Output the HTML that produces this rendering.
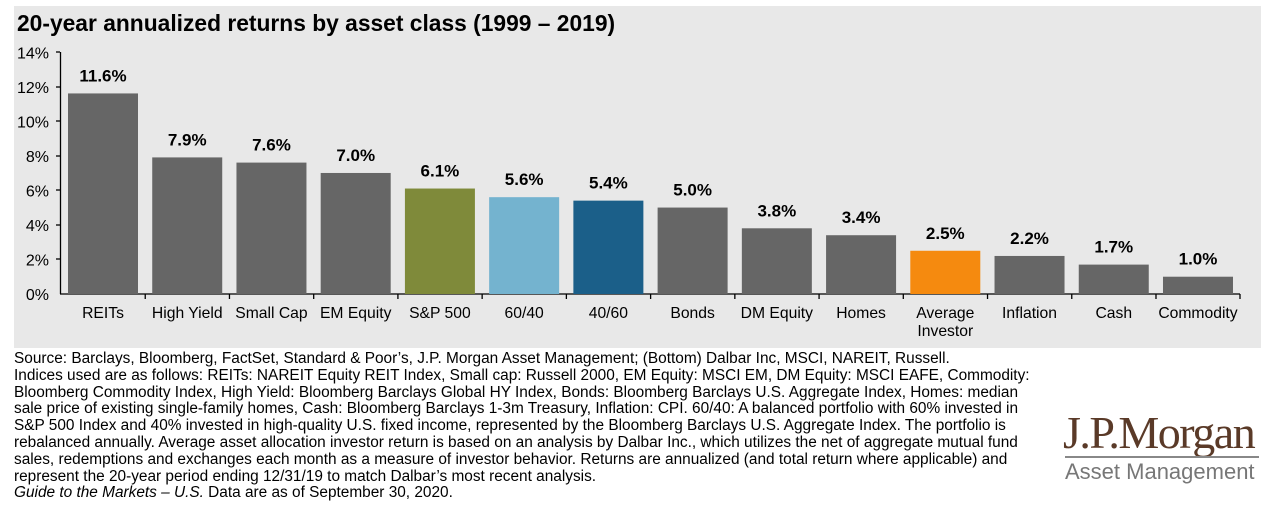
<!DOCTYPE html>
<html><head><meta charset="utf-8"><style>
body{margin:0;background:#fff;width:1280px;height:510px;overflow:hidden;font-family:"Liberation Sans",Arial,sans-serif}
.note{position:absolute;left:14px;top:351px;font-size:15.4px;line-height:16.8px;color:#000;width:1040px;white-space:nowrap}
</style></head><body>
<svg width="1280" height="510" style="position:absolute;left:0;top:0" font-family="Liberation Sans, Arial, sans-serif">
<rect x="14" y="6" width="1247" height="342" fill="#e8e8e8"/>
<text x="17" y="31" font-size="22.8" font-weight="bold" fill="#000">20-year annualized returns by asset class (1999 – 2019)</text>
<g font-size="16" fill="#000" text-anchor="end">
<text x="49" y="300">0%</text><text x="49" y="265.5">2%</text><text x="49" y="231">4%</text><text x="49" y="196.5">6%</text><text x="49" y="162">8%</text><text x="49" y="127.5">10%</text><text x="49" y="93">12%</text><text x="49" y="58.5">14%</text>
</g>
<g stroke="#000" stroke-width="1.3">
<line x1="60.5" y1="52" x2="60.5" y2="294"/>
<line x1="60" y1="294" x2="1240" y2="294"/>
<line x1="56" y1="52" x2="60" y2="52"/><line x1="56" y1="87" x2="60" y2="87"/><line x1="56" y1="121" x2="60" y2="121"/><line x1="56" y1="156" x2="60" y2="156"/><line x1="56" y1="190" x2="60" y2="190"/><line x1="56" y1="225" x2="60" y2="225"/><line x1="56" y1="259" x2="60" y2="259"/>
</g>
<g id="bars"></g>
</svg>
<div class="note">Source: Barclays, Bloomberg, FactSet, Standard &amp; Poor’s, J.P. Morgan Asset Management; (Bottom) Dalbar Inc, MSCI, NAREIT, Russell.<br>Indices used are as follows: REITs: NAREIT Equity REIT Index, Small cap: Russell 2000, EM Equity: MSCI EM, DM Equity: MSCI EAFE, Commodity:<br>Bloomberg Commodity Index, High Yield: Bloomberg Barclays Global HY Index, Bonds: Bloomberg Barclays U.S. Aggregate Index, Homes: median<br>sale price of existing single-family homes, Cash: Bloomberg Barclays 1-3m Treasury, Inflation: CPI. 60/40: A balanced portfolio with 60% invested in<br>S&amp;P 500 Index and 40% invested in high-quality U.S. fixed income, represented by the Bloomberg Barclays U.S. Aggregate Index. The portfolio is<br>rebalanced annually. Average asset allocation investor return is based on an analysis by Dalbar Inc., which utilizes the net of aggregate mutual fund<br>sales, redemptions and exchanges each month as a measure of investor behavior. Returns are annualized (and total return where applicable) and<br>represent the 20-year period ending 12/31/19 to match Dalbar’s most recent analysis.<br><i>Guide to the Markets – U.S.</i> Data are as of September 30, 2020.</div>
<div style="position:absolute;left:1063px;top:410px;width:200px;font-family:'Liberation Serif',serif;font-size:46px;color:#5a3a28;letter-spacing:-1.5px;line-height:46px;white-space:nowrap">J.P.Morgan</div>
<div style="position:absolute;left:1065px;top:456px;width:194px;height:2px;background:#888"></div>
<div style="position:absolute;left:1065px;top:459px;font-size:22px;color:#777;line-height:26px">Asset Management</div>
<script>
var d=[["REITs",11.6,"#666"],["High Yield",7.9,"#666"],["Small Cap",7.6,"#666"],["EM Equity",7.0,"#666"],["S&P 500",6.1,"#7f8a3a"],["60/40",5.6,"#74b3cf"],["40/60",5.4,"#1b5f89"],["Bonds",5.0,"#666"],["DM Equity",3.8,"#666"],["Homes",3.4,"#666"],["Average|Investor",2.5,"#f58a0f"],["Inflation",2.2,"#666"],["Cash",1.7,"#666"],["Commodity",1.0,"#666"]];
var s="",p=84.23;
d.forEach(function(e,i){var x=68+i*p,h=e[1]*17.29,y=294-h,c=x+35;
s+='<rect x="'+x+'" y="'+y+'" width="70" height="'+h+'" fill="'+e[2]+'"/>';
s+='<text x="'+c+'" y="'+(y-12)+'" font-size="17" font-weight="bold" text-anchor="middle">'+e[1].toFixed(1)+'%</text>';
var l=e[0].split("|");l.forEach(function(t,j){s+='<text x="'+c+'" y="'+(318+j*18)+'" font-size="15.7" text-anchor="middle">'+t.replace("&","&amp;")+'</text>';});
if(i>0)s+='<line x1="'+(x-7)+'" y1="294" x2="'+(x-7)+'" y2="299" stroke="#000" stroke-width="1.3"/>';});
s+='<line x1="1240" y1="294" x2="1240" y2="299" stroke="#000" stroke-width="1.3"/>';
document.getElementById("bars").innerHTML=s;
</script>
</body></html>
